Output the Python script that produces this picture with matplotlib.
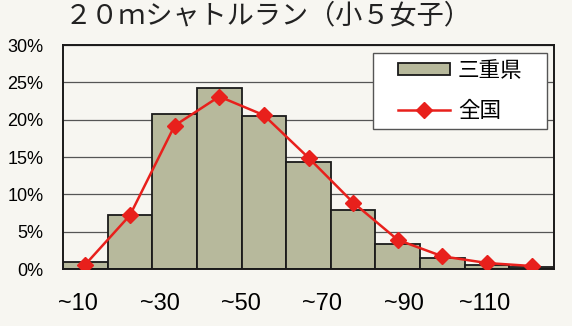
import matplotlib
matplotlib.use("Agg")
import matplotlib.pyplot as plt
import matplotlib.ticker as mticker
from matplotlib.patches import Rectangle
import numpy as np

plt.rcParams['font.family'] = ['Liberation Sans Narrow', 'Liberation Sans', 'Noto Sans CJK JP', 'DejaVu Sans']

# 記録の区分（~10, ~20, ... ~110）
categories = ['~10', '~20', '~30', '~40', '~50', '~60', '~70', '~80', '~90', '~100', '~110']
mie = [0.9, 7.2, 20.7, 24.3, 20.5, 14.3, 7.9, 3.3, 1.5, 0.6, 0.3]       # 三重県 (%)
zenkoku = [0.6, 7.2, 19.2, 23.1, 20.6, 14.9, 8.9, 3.9, 1.7, 0.8, 0.4]   # 全国 (%)
tick_labels = ['~10', '~30', '~50', '~70', '~90', '~110']

paper = '#f7f6f1'
fig = plt.figure(figsize=(5.72, 3.26), dpi=100, facecolor=paper)
ax = fig.add_axes([63 / 572, 1 - 269 / 326, 491 / 572, 224 / 326])
ax.set_facecolor(paper)

x = np.arange(len(categories))
bars = ax.bar(x, mie, width=1.0, color='#b7b99c', edgecolor='#1a1a1a', linewidth=1.3,
              label='三重県', zorder=2)
line, = ax.plot(x, zenkoku, color='#e8201c', linewidth=1.8, marker='D', markersize=8,
                label='全国', zorder=3)

ax.set_xlim(-0.5, len(categories) - 0.5)
ax.set_ylim(0, 30)
ax.yaxis.set_major_locator(mticker.MultipleLocator(5))
ax.yaxis.set_major_formatter(mticker.FormatStrFormatter('%d%%'))
ax.grid(axis='y', color='#555555', linewidth=0.9, zorder=0)
ax.set_axisbelow(True)

# 目盛ラベルは1つおき、少し左へ詰めて並べる
ax.set_xticks(np.linspace(-0.16, 8.95, len(tick_labels)))
ax.set_xticklabels(tick_labels, family=['Liberation Sans', 'DejaVu Sans'])
ax.tick_params(axis='x', length=0, pad=17, labelsize=17)
ax.tick_params(axis='y', length=0, pad=14, labelsize=13)

for s in ax.spines.values():
    s.set_color('#1a1a1a')
    s.set_linewidth(1.4)

# 凡例の枠
ax.add_patch(Rectangle((0.631, 0.625), 0.355, 0.339, transform=ax.transAxes,
                       facecolor='white', edgecolor='#555555', linewidth=1.0, zorder=4))
leg = ax.legend([bars, line], ['三重県', '全国'],
                loc='center', bbox_to_anchor=(0.8085, 0.7945),
                prop={'family': ['Noto Sans CJK JP'], 'size': 15.5},
                frameon=False, handlelength=2.45, handleheight=0.5,
                labelspacing=0.85, handletextpad=0.35, borderaxespad=0)
leg.set_zorder(5)

fig.text(65 / 572, 1 - 16 / 326, '２０ｍシャトルラン（小５女子）', fontsize=19.5,
         family=['Noto Sans CJK JP'], va='center', ha='left', color='#222222')

fig.savefig('out.png', dpi=100, facecolor=paper)
